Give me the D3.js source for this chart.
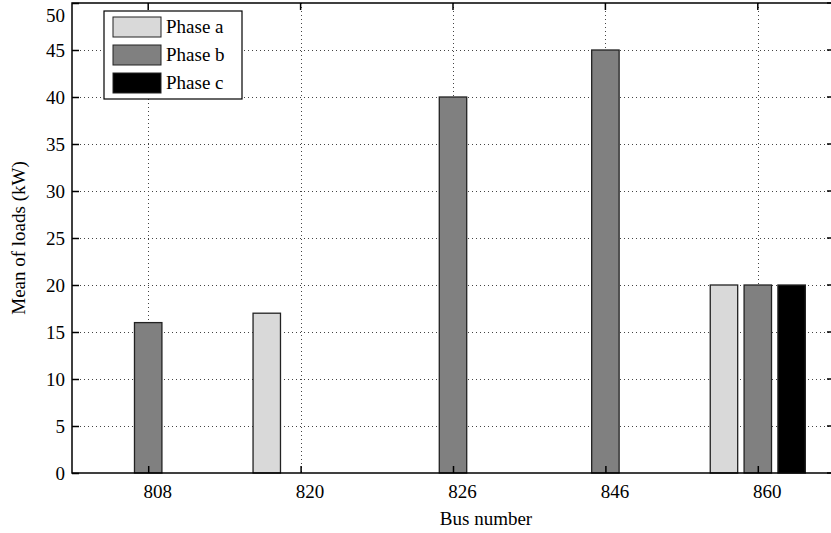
<!DOCTYPE html>
<html>
<head>
<meta charset="utf-8">
<script src="https://cdn.jsdelivr.net/npm/d3@7"></script>
<style>
  html, body { margin: 0; padding: 0; background: #fff; }
  svg { display: block; }
  text { font-family: "Liberation Serif", "DejaVu Serif", serif; fill: #000; }
</style>
</head>
<body>
<svg id="chart" width="831" height="533"></svg>
<script>
// Bus numbers on the x axis
const buses = ["808", "820", "826", "846", "860"];
// Phase names and mean loads (kW) per bus
const phases = ["Phase a", "Phase b", "Phase c"];
const phaseA = [0, 17, 0, 0, 20];
const phaseB = [16, 0, 40, 45, 20];
const phaseC = [0, 0, 0, 0, 20];
const yTicks = [0, 5, 10, 15, 20, 25, 30, 35, 40, 45, 50];
const phaseColors = ["#d9d9d9", "#808080", "#000000"];

const series = [phaseA, phaseB, phaseC];
const FS = 19;

const svg = d3.select("#chart");
const plotL = 72, plotT = 3, plotR = 834, plotB = 473;

const x = d3.scaleLinear().domain([0.5, buses.length + 0.5]).range([plotL, plotR]);
const y = d3.scaleLinear().domain([0, 50]).range([plotB, plotT]);

// Grid
const grid = svg.append("g");
grid.selectAll("line.gy").data(yTicks.slice(1, -1)).join("line")
  .attr("x1", plotL).attr("x2", plotR)
  .attr("y1", d => Math.round(y(d)) + 0.5).attr("y2", d => Math.round(y(d)) + 0.5)
  .attr("stroke", "#444").attr("stroke-width", 1).attr("stroke-dasharray", "1,3");
grid.selectAll("line.gx").data(buses).join("line")
  .attr("x1", (d, i) => Math.round(x(i + 1)) + 0.5).attr("x2", (d, i) => Math.round(x(i + 1)) + 0.5)
  .attr("y1", plotT).attr("y2", plotB)
  .attr("stroke", "#444").attr("stroke-width", 1).attr("stroke-dasharray", "1,3");

// Bars (grouped, three phases per bus)
const groupW = x(2) - x(1);
const barStep = groupW * 0.222;
const barW = groupW * 0.18;
series.forEach((vals, s) => {
  const pts = vals.map((v, i) => ({ v, i })).filter(d => d.v > 0);
  svg.append("g").selectAll("rect").data(pts).join("rect")
    .attr("x", d => x(d.i + 1) + (s - 1) * barStep - barW / 2)
    .attr("y", d => y(d.v))
    .attr("width", barW)
    .attr("height", d => y(0) - y(d.v))
    .attr("fill", phaseColors[s])
    .attr("stroke", "#222")
    .attr("stroke-width", 1.3);
});

// Axes box
svg.append("rect")
  .attr("x", plotL).attr("y", plotT)
  .attr("width", plotR - plotL).attr("height", plotB - plotT)
  .attr("fill", "none").attr("stroke", "#000").attr("stroke-width", 1.5);

// Y axis (inward ticks)
const yAxis = d3.axisLeft(y).tickValues(yTicks).tickSize(-7).tickPadding(7);
const ya = svg.append("g").attr("transform", `translate(${plotL},0)`).call(yAxis);
ya.select(".domain").remove();
ya.selectAll("line").attr("stroke-width", 1.5);
ya.selectAll("text").attr("font-size", FS).attr("font-family", "Liberation Serif")
  .attr("dy", d => d === 50 ? "0.95em" : "0.32em");

// Right-side mirrored ticks
svg.append("g").selectAll("line").data(yTicks).join("line")
  .attr("x1", plotR).attr("x2", plotR - 7)
  .attr("y1", d => y(d)).attr("y2", d => y(d))
  .attr("stroke", "#000").attr("stroke-width", 1.5);

// X axis
const xAxis = d3.axisBottom(x).tickValues(d3.range(1, buses.length + 1))
  .tickFormat((d, i) => buses[i]).tickSize(-7).tickPadding(12);
const xa = svg.append("g").attr("transform", `translate(0,${plotB})`).call(xAxis);
xa.select(".domain").remove();
xa.selectAll("line").attr("stroke-width", 1.5);
xa.selectAll("text").attr("font-size", FS).attr("font-family", "Liberation Serif").attr("dx", 9);

// Top mirrored ticks
svg.append("g").selectAll("line").data(d3.range(1, buses.length + 1)).join("line")
  .attr("x1", d => x(d)).attr("x2", d => x(d))
  .attr("y1", plotT).attr("y2", plotT + 7)
  .attr("stroke", "#000").attr("stroke-width", 1.5);

// Axis titles
svg.append("text")
  .attr("x", 486).attr("y", 525)
  .attr("text-anchor", "middle").attr("font-size", FS)
  .text("Bus number");
svg.append("text")
  .attr("transform", "translate(25,238) rotate(-90)")
  .attr("text-anchor", "middle").attr("font-size", FS)
  .text("Mean of loads (kW)");

// Legend
const lg = svg.append("g");
lg.append("rect")
  .attr("x", 104).attr("y", 11).attr("width", 138).attr("height", 88)
  .attr("fill", "#fff").attr("stroke", "#000").attr("stroke-width", 1.2);
phases.forEach((p, i) => {
  lg.append("rect")
    .attr("x", 113).attr("y", 17 + i * 28).attr("width", 48).attr("height", 20)
    .attr("fill", phaseColors[i]).attr("stroke", "#222").attr("stroke-width", 1);
  lg.append("text")
    .attr("x", 166).attr("y", 33 + i * 28)
    .attr("font-size", FS)
    .text(p);
});
</script>
</body>
</html>
